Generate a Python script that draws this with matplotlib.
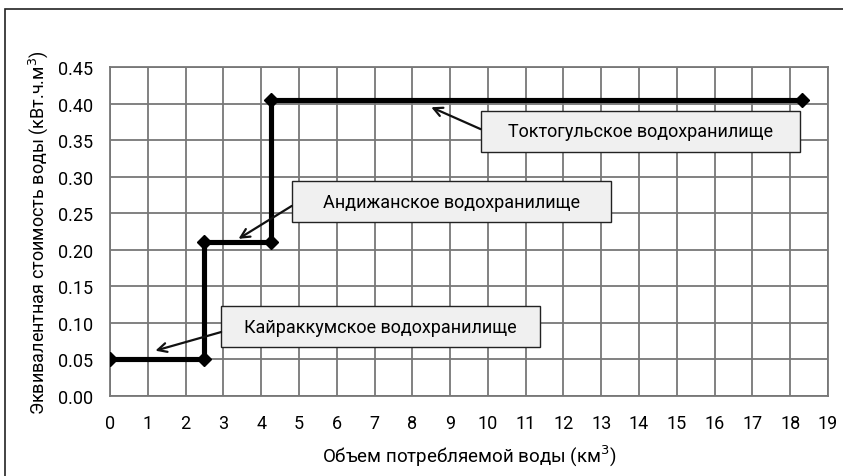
import numpy as np
import matplotlib.pyplot as plt
from matplotlib.patches import Rectangle

# Step curve (volume km3, equivalent cost)
volume = [0, 2.5, 2.5, 4.25, 4.25, 18.3]
cost = [0.05, 0.05, 0.21, 0.21, 0.405, 0.405]

labels = ['Кайраккумское водохранилище', 'Андижанское водохранилище', 'Токтогульское водохранилище']
arrow_tips = [(1.2, 0.062), (3.4, 0.215), (8.5, 0.395)]
arrow_starts = [(2.94, 0.0875), (4.81, 0.26), (9.81, 0.365)]
# label boxes: lower-left corner in data units, same size for all
box_x = [2.94, 4.81, 9.81]
box_y = [0.067, 0.238, 0.334]
box_w, box_h = 8.44, 0.056

x_ticks = list(range(0, 20))
y_ticks = [0.00, 0.05, 0.10, 0.15, 0.20, 0.25, 0.30, 0.35, 0.40, 0.45]

plt.rcParams['font.family'] = ['Roboto', 'DejaVu Sans']

fig = plt.figure(figsize=(8.43, 4.77), dpi=100)
ax = fig.add_axes([0.1305, 0.1677, 0.8517, 0.6897])

# outer frame (partly outside the picture)
fig.patches.append(Rectangle((5 / 843, -0.1), 1.2, 1 - 10 / 477 + 0.1,
                             transform=fig.transFigure, fill=False,
                             edgecolor='#222222', linewidth=1.2))

ax.plot(volume, cost, color='black', linewidth=3.7, marker='D', markersize=7,
        solid_joinstyle='miter', zorder=3)

ax.set_xlim(0, 19)
ax.set_ylim(0, 0.45)
ax.set_xticks(x_ticks)
ax.set_yticks(y_ticks)
ax.set_yticklabels([f'{v:.2f}' for v in y_ticks])
ax.tick_params(length=0, labelsize=13, pad=13)
ax.tick_params(axis='y', pad=12)
ax.grid(True, color='#777777', linewidth=1.3)
ax.set_axisbelow(True)
for s in ax.spines.values():
    s.set_color('#777777')
    s.set_linewidth(1.3)

ax.set_xlabel('Объем потребляемой воды (км$^3$)', fontsize=13.5, labelpad=8)
ax.set_ylabel('Эквивалентная стоимость воды (кВт.ч.м$^3$)', fontsize=13, labelpad=6)

for text, tip, start, bx, by in zip(labels, arrow_tips, arrow_starts, box_x, box_y):
    ax.add_patch(Rectangle((bx, by), box_w, box_h, facecolor='#f0f0f0',
                           edgecolor='#222222', linewidth=1, zorder=4))
    ax.text(bx + box_w / 2, by + box_h / 2, text, fontsize=13,
            ha='center', va='center', zorder=5)
    ax.annotate('', xy=tip, xytext=start,
                arrowprops=dict(arrowstyle='->', color='#111111', lw=1.6,
                                mutation_scale=16, shrinkA=0, shrinkB=0),
                zorder=4)

fig.savefig('out.png', dpi=100)
